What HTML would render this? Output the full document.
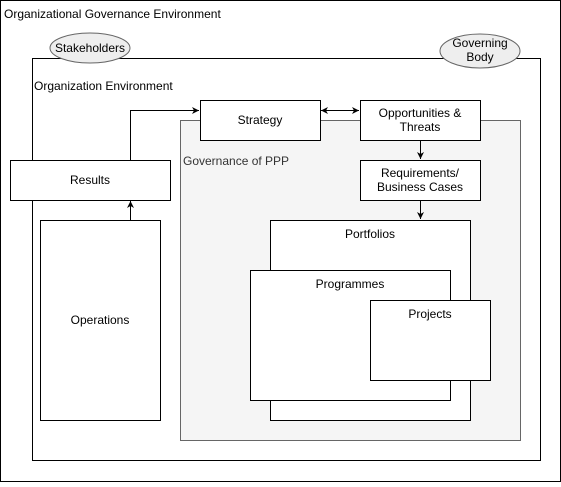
<!DOCTYPE html>
<html><head><style>body{margin:0;background:#fff}</style></head><body>
<svg width="561" height="482" xmlns="http://www.w3.org/2000/svg" font-family="Liberation Sans, sans-serif" font-size="12">
<defs><marker id="a" markerWidth="8" markerHeight="8" refX="7" refY="4" orient="auto" markerUnits="userSpaceOnUse"><path d="M0,0.5 L7,4 L0,7.5 L2,4 Z" fill="#000"/></marker>
<marker id="b" markerWidth="8" markerHeight="8" refX="1" refY="4" orient="auto" markerUnits="userSpaceOnUse"><path d="M8,0.5 L1,4 L8,7.5 L6,4 Z" fill="#000"/></marker></defs>
<rect x="0.5" y="0.5" width="560" height="481" fill="#fff" stroke="#000"/>
<text x="4" y="18">Organizational Governance Environment</text>
<rect x="32.5" y="58.5" width="508" height="402" fill="#fff" stroke="#000"/>
<ellipse cx="90" cy="48" rx="40" ry="15" fill="#eee" stroke="#666"/>
<text x="90" y="52" text-anchor="middle">Stakeholders</text>
<ellipse cx="480" cy="51" rx="40" ry="17" fill="#eee" stroke="#666"/>
<text x="480" y="47" text-anchor="middle">Governing</text>
<text x="480" y="61" text-anchor="middle">Body</text>
<text x="34" y="90">Organization Environment</text>
<rect x="180.5" y="120.5" width="340" height="320" fill="#f5f5f5" stroke="#666"/>
<text x="183" y="165" fill="#333">Governance of PPP</text>
<rect x="200.5" y="100.5" width="120" height="40" fill="#fff" stroke="#000"/>
<text x="260" y="124" text-anchor="middle">Strategy</text>
<rect x="360.5" y="100.5" width="120" height="40" fill="#fff" stroke="#000"/>
<text x="420" y="117" text-anchor="middle">Opportunities &amp;</text>
<text x="420" y="131" text-anchor="middle">Threats</text>
<rect x="360.5" y="160.5" width="120" height="40" fill="#fff" stroke="#000"/>
<text x="420" y="177" text-anchor="middle">Requirements/</text>
<text x="420" y="191" text-anchor="middle">Business Cases</text>
<rect x="10.5" y="160.5" width="160" height="40" fill="#fff" stroke="#000"/>
<text x="90" y="184" text-anchor="middle">Results</text>
<rect x="40.5" y="220.5" width="120" height="200" fill="#fff" stroke="#000"/>
<text x="100" y="324" text-anchor="middle">Operations</text>
<rect x="270.5" y="220.5" width="200" height="200" fill="#fff" stroke="#000"/>
<text x="370" y="238" text-anchor="middle">Portfolios</text>
<rect x="250.5" y="270.5" width="200" height="130" fill="#fff" stroke="#000"/>
<text x="350" y="288" text-anchor="middle">Programmes</text>
<rect x="370.5" y="300.5" width="120" height="80" fill="#fff" stroke="#000"/>
<text x="430" y="318" text-anchor="middle">Projects</text>
<g stroke="#000" fill="none">
<path d="M130.5,160 V110.5 H199" marker-end="url(#a)"/>
<path d="M130.5,220 V201" marker-end="url(#a)"/>
<path d="M321,110.5 H359" marker-start="url(#b)" marker-end="url(#a)"/>
<path d="M420.5,140 V159" marker-end="url(#a)"/>
<path d="M420.5,200 V219" marker-end="url(#a)"/>
</g>
</svg>
</body></html>
